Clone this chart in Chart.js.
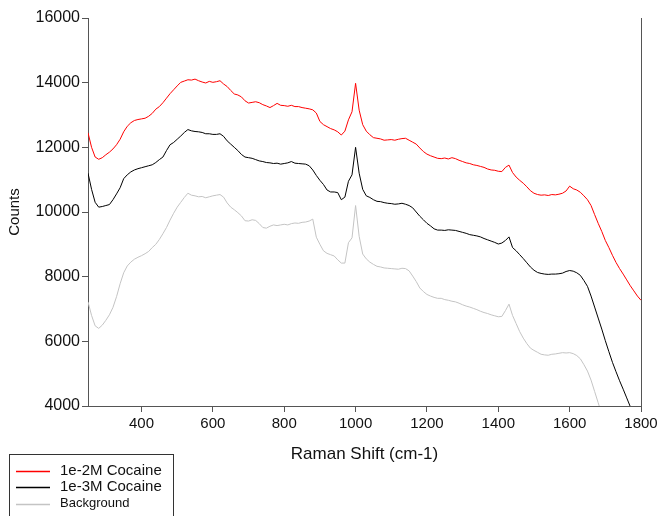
<!DOCTYPE html>
<html>
<head>
<meta charset="utf-8">
<title>Raman spectra</title>
<script src="https://cdn.jsdelivr.net/npm/chart.js@4.4.1/dist/chart.umd.min.js"></script>
<style>
    html, body { margin: 0; padding: 0; background: #ffffff; }
    #ramanChart { display: block; }
</style>
</head>
<body>
<canvas id="ramanChart" width="658" height="516"></canvas>
<script>
// Raman shift axis (cm-1)
const ramanShift = [
    250, 260, 270, 280, 290, 300, 310, 320, 330, 340,
    350, 360, 370, 380, 390, 400, 410, 420, 430, 440,
    450, 460, 470, 480, 490, 500, 510, 520, 530, 540,
    550, 560, 570, 580, 590, 600, 610, 620, 630, 640,
    650, 660, 670, 680, 690, 700, 710, 720, 730, 740,
    750, 760, 770, 780, 790, 800, 810, 820, 830, 840,
    850, 860, 870, 880, 890, 900, 910, 920, 930, 940,
    950, 960, 970, 980, 990, 1000, 1010, 1020, 1030, 1040,
    1050, 1060, 1070, 1080, 1090, 1100, 1110, 1120, 1130, 1140,
    1150, 1160, 1170, 1180, 1190, 1200, 1210, 1220, 1230, 1240,
    1250, 1260, 1270, 1280, 1290, 1300, 1310, 1320, 1330, 1340,
    1350, 1360, 1370, 1380, 1390, 1400, 1410, 1420, 1430, 1440,
    1450, 1460, 1470, 1480, 1490, 1500, 1510, 1520, 1530, 1540,
    1550, 1560, 1570, 1580, 1590, 1600, 1610, 1620, 1630, 1640,
    1650, 1660, 1670, 1680, 1690, 1700, 1710, 1720, 1730, 1740,
    1750, 1760, 1770, 1780, 1790, 1800
];

// 1e-2M cocaine
const cocaine2M = [
    12450, 12000, 11700, 11630, 11680, 11770, 11850, 11950, 12080, 12250,
    12480, 12650, 12760, 12830, 12860, 12880, 12900, 12960, 13050, 13180,
    13260, 13380, 13520, 13660, 13780, 13900, 14010, 14050, 14090, 14080,
    14110, 14060, 14020, 13990, 14040, 14010, 14030, 14060, 13960, 13880,
    13760, 13650, 13620, 13560, 13440, 13370, 13390, 13410, 13380, 13320,
    13280, 13230, 13290, 13360, 13300, 13290, 13270, 13300, 13260, 13260,
    13230, 13210, 13190, 13160, 13060, 12800, 12700, 12640, 12580, 12540,
    12480, 12380, 12500, 12850, 13100, 13980, 13150, 12700, 12500, 12390,
    12300, 12280, 12260, 12220, 12230, 12240, 12220, 12250, 12270, 12280,
    12220, 12160, 12100, 11980, 11870, 11790, 11740, 11700, 11660, 11650,
    11670, 11640, 11680, 11650, 11600, 11560, 11520, 11500, 11460, 11440,
    11410, 11380, 11330, 11300, 11290, 11260, 11250, 11380, 11450, 11220,
    11080, 10980, 10890, 10780, 10660, 10580, 10540, 10520, 10530, 10510,
    10540, 10530, 10550, 10580, 10650, 10800, 10720, 10680, 10610, 10500,
    10380, 10200, 9920, 9650, 9400, 9120, 8900, 8660, 8440, 8250,
    8080, 7900, 7720, 7560, 7400, 7270
];

// 1e-3M cocaine
const cocaine3M = [
    11200, 10700, 10300, 10150, 10170, 10200, 10230, 10380, 10560, 10750,
    11030, 11150, 11240, 11300, 11340, 11370, 11400, 11430, 11460, 11530,
    11620, 11700, 11900, 12080, 12150, 12250, 12350, 12460, 12550, 12510,
    12490, 12480, 12460, 12420, 12420, 12400, 12400, 12420, 12340, 12200,
    12100, 12000, 11900, 11780, 11700, 11680, 11660, 11620, 11580, 11560,
    11530, 11520, 11500, 11510, 11480, 11500, 11520, 11560, 11510, 11500,
    11490, 11480, 11430, 11300, 11130, 10980, 10850, 10680, 10620, 10620,
    10600, 10380, 10460, 10950, 11150, 12000, 11200, 10700, 10500, 10450,
    10380, 10330, 10320, 10290, 10270, 10260, 10240, 10250, 10270, 10240,
    10200, 10130, 10000, 9870, 9760, 9650, 9570, 9480, 9440, 9440,
    9430, 9450, 9440, 9430, 9400, 9370, 9340, 9300, 9280, 9260,
    9230, 9180, 9140, 9100, 9060, 9010, 9040, 9120, 9230, 8900,
    8800, 8680, 8560, 8430, 8300, 8200, 8130, 8100, 8080, 8070,
    8080, 8080, 8090, 8110, 8160, 8190, 8170, 8120, 8040, 7880,
    7700, 7400, 7060, 6720, 6380, 6020, 5680, 5350, 5060, 4780,
    4520, 4250, 3980, 3700, null, null
];

// background spectrum
const background = [
    7220, 6800, 6480, 6400, 6500, 6650, 6820, 7050, 7380, 7780,
    8120, 8330, 8450, 8540, 8600, 8650, 8710, 8780, 8900, 9000,
    9150, 9330, 9520, 9750, 9960, 10150, 10300, 10450, 10580, 10520,
    10500, 10470, 10480, 10440, 10470, 10500, 10520, 10540, 10460, 10280,
    10150, 10070, 9980, 9880, 9730, 9720, 9760, 9740, 9640, 9520,
    9500, 9560, 9600, 9580, 9600, 9620, 9600, 9640, 9660, 9650,
    9680, 9690, 9720, 9780, 9220, 9000, 8800, 8720, 8680, 8640,
    8520, 8420, 8420, 9050, 9200, 10200, 9250, 8700, 8550, 8450,
    8380, 8320, 8300, 8270, 8260, 8250, 8240, 8230, 8260, 8250,
    8180, 8020, 7850, 7650, 7540, 7450, 7400, 7360, 7330, 7330,
    7290, 7270, 7240, 7220, 7180, 7130, 7090, 7060, 7020, 6980,
    6930, 6890, 6860, 6820, 6790, 6760, 6770, 6950, 7150, 6800,
    6550, 6300, 6100, 5930, 5790, 5720, 5660, 5600, 5580, 5570,
    5600, 5610, 5630, 5650, 5640, 5650, 5620, 5560, 5460, 5280,
    5080, 4800, 4450, 4100, 3750, null, null, null, null, null,
    null, null, null, null, null, null
];

const xTicks = [400, 600, 800, 1000, 1200, 1400, 1600, 1800];

const seriesNames = ['1e-2M Cocaine', '1e-3M Cocaine', 'Background'];
const seriesColors = ['#ff0000', '#000000', '#c4c4c4'];
const legendFontSizes = [15, 15, 13];

const axisColor = '#555555';
const textColor = '#111111';
const fontFamily = '"Liberation Sans", Arial, sans-serif';

function toPoints(values) {
    return ramanShift.map((x, i) => ({ x: x, y: values[i] }));
}

// plain integers, no thousands separator
function plainTick(value) {
    return String(value);
}

// Right-hand frame line and the boxed legend under the plot
const framePlugin = {
    id: 'frameAndLegend',
    afterDraw(chart) {
        const ctx = chart.ctx;
        const area = chart.chartArea;
        ctx.save();
        ctx.strokeStyle = axisColor;
        ctx.lineWidth = 1;
        ctx.beginPath();
        ctx.moveTo(Math.round(area.right) + 0.5, area.top);
        ctx.lineTo(Math.round(area.right) + 0.5, area.bottom);
        ctx.stroke();

        // legend box
        ctx.strokeStyle = '#333333';
        ctx.strokeRect(9.5, 454.5, 164, 80);
        seriesNames.forEach((name, i) => {
            const y = 471 + i * 16.3;
            ctx.strokeStyle = seriesColors[i];
            ctx.lineWidth = 1.3;
            ctx.beginPath();
            ctx.moveTo(16, Math.round(y) + 0.5);
            ctx.lineTo(50, Math.round(y) + 0.5);
            ctx.stroke();
            ctx.fillStyle = textColor;
            ctx.font = legendFontSizes[i] + 'px ' + fontFamily;
            ctx.textBaseline = 'middle';
            ctx.textAlign = 'left';
            ctx.fillText(name, 60, y);
        });
        ctx.restore();
    }
};

const ctx = document.getElementById('ramanChart').getContext('2d');
const ramanChart = new Chart(ctx, {
    type: 'line',
    data: {
        datasets: [
            { label: seriesNames[0], data: toPoints(cocaine2M), borderColor: seriesColors[0] },
            { label: seriesNames[1], data: toPoints(cocaine3M), borderColor: seriesColors[1] },
            { label: seriesNames[2], data: toPoints(background), borderColor: seriesColors[2] }
        ]
    },
    options: {
        responsive: false,
        devicePixelRatio: 1,
        animation: false,
        layout: { padding: { left: 0, right: 0, top: 18, bottom: 51 } },
        elements: {
            line: { borderWidth: 1, tension: 0, fill: false },
            point: { radius: 0 }
        },
        datasets: { line: { clip: 0, spanGaps: false } },
        plugins: {
            legend: { display: false },
            tooltip: { enabled: false }
        },
        scales: {
            x: {
                type: 'linear',
                min: 250,
                max: 1800,
                afterBuildTicks: scale => {
                    scale.ticks = xTicks.map(v => ({ value: v }));
                },
                afterFit: scale => {
                    scale.height = 59;
                    scale.paddingLeft = 0;
                    scale.paddingRight = 17;
                },
                ticks: {
                    color: textColor,
                    font: { family: fontFamily, size: 15 },
                    padding: 3,
                    maxRotation: 0,
                    autoSkip: false,
                    callback: plainTick
                },
                grid: { drawOnChartArea: false, drawTicks: true, tickLength: 6, color: axisColor },
                border: { display: true, color: axisColor },
                title: {
                    display: true,
                    text: 'Raman Shift (cm-1)',
                    color: textColor,
                    font: { family: fontFamily, size: 17 },
                    padding: { top: 0, bottom: 0 }
                }
            },
            y: {
                min: 4000,
                max: 16000,
                ticks: {
                    stepSize: 2000,
                    color: textColor,
                    font: { family: fontFamily, size: 16 },
                    padding: 2,
                    callback: plainTick
                },
                afterFit: scale => { scale.width = 88; },
                grid: { drawOnChartArea: false, drawTicks: true, tickLength: 6, color: axisColor },
                border: { display: true, color: axisColor },
                title: {
                    display: true,
                    text: 'Counts',
                    color: textColor,
                    font: { family: fontFamily, size: 15 },
                    padding: { top: 6, bottom: 0 }
                }
            }
        }
    },
    plugins: [framePlugin]
});
</script>
</body>
</html>
